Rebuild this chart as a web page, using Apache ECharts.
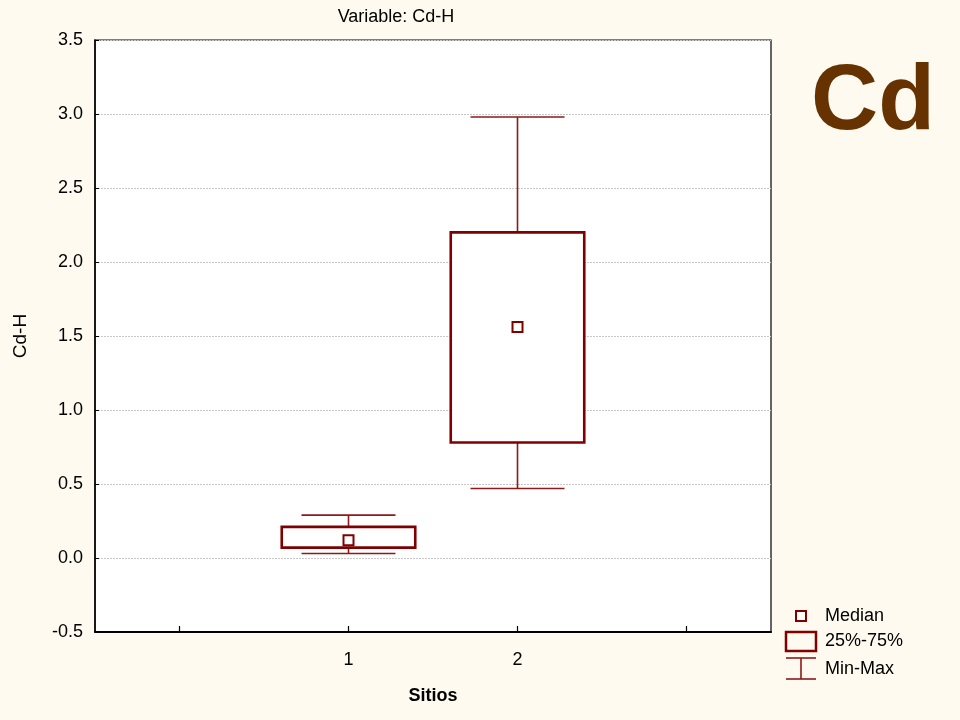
<!DOCTYPE html>
<html>
<head>
<meta charset="utf-8">
<script src="https://cdn.jsdelivr.net/npm/echarts@6/dist/echarts.min.js"></script>
<style>
html,body{margin:0;padding:0;background:#FFFAF0;}
#chart{width:960px;height:720px;}
</style>
</head>
<body>
<div id="chart"></div>
<script>
// ---- data ----
const categories = ['0', '1', '2', '3'];
const siteLabels = ['1', '2'];
const siteIndex = [1, 2];
const minVals = [0.03, 0.47];
const q1Vals = [0.07, 0.78];
const medianVals = [0.12, 1.56];
const q3Vals = [0.21, 2.20];
const maxVals = [0.29, 2.98];
const yTicks = [-0.5, 0.0, 0.5, 1.0, 1.5, 2.0, 2.5, 3.0, 3.5];

const FONT = 'Liberation Sans, Arial, sans-serif';
const boxData = siteIndex.map((x, i) => [x, minVals[i], q1Vals[i], medianVals[i], q3Vals[i], maxVals[i]]);

const chart = echarts.init(document.getElementById('chart'), null, {renderer: 'canvas'});

function renderBox(params, api) {
  const x = api.value(0);
  const pMin = api.coord([x, api.value(1)]);
  const pQ1 = api.coord([x, api.value(2)]);
  const pMed = api.coord([x, api.value(3)]);
  const pQ3 = api.coord([x, api.value(4)]);
  const pMax = api.coord([x, api.value(5)]);
  const band = api.size([1, 0])[0];
  const bw = band * 0.79;
  const cw = band * 0.556;
  const cx = pMed[0];
  const wStyle = {stroke: '#8B1A1A', lineWidth: 1.6};
  return {
    type: 'group',
    children: [
      {type: 'line', shape: {x1: cx, y1: pMin[1], x2: cx, y2: pQ1[1]}, style: wStyle},
      {type: 'line', shape: {x1: cx, y1: pQ3[1], x2: cx, y2: pMax[1]}, style: wStyle},
      {type: 'line', shape: {x1: cx - cw / 2, y1: pMin[1], x2: cx + cw / 2, y2: pMin[1]}, style: wStyle},
      {type: 'line', shape: {x1: cx - cw / 2, y1: pMax[1], x2: cx + cw / 2, y2: pMax[1]}, style: wStyle},
      {type: 'rect', shape: {x: cx - bw / 2, y: pQ3[1], width: bw, height: pQ1[1] - pQ3[1]},
        style: {fill: '#ffffff', stroke: '#800000', lineWidth: 2.6}},
      {type: 'rect', shape: {x: cx - 5, y: pMed[1] - 5, width: 10, height: 10},
        style: {fill: '#ffffff', stroke: '#800000', lineWidth: 2}}
    ]
  };
}

const option = {
  backgroundColor: '#FFFAF0',
  animation: false,
  title: {
    text: 'Variable: Cd-H',
    left: 391,
    textAlign: 'center',
    top: 3,
    textStyle: {fontFamily: FONT, fontSize: 18, fontWeight: 'normal', color: '#000'}
  },
  grid: {
    left: 95, right: 189, top: 40, bottom: 88,
    show: true, backgroundColor: '#ffffff', borderColor: '#000', borderWidth: 1.2
  },
  xAxis: {
    type: 'category',
    data: categories,
    boundaryGap: true,
    name: 'Sitios',
    nameLocation: 'middle',
    nameGap: 55,
    nameTextStyle: {fontFamily: FONT, fontSize: 18, fontWeight: 'bold', color: '#000'},
    axisLine: {onZero: false, lineStyle: {color: '#000', width: 2}},
    axisTick: {show: true, inside: true, length: 6, interval: 0, alignWithLabel: true, lineStyle: {color: '#000', width: 1.2}},
    axisLabel: {
      interval: 0, margin: 19, fontFamily: FONT, fontSize: 18, color: '#000',
      formatter: v => (siteLabels.indexOf(v) >= 0 ? v : '')
    },
    splitLine: {show: false}
  },
  yAxis: {
    type: 'value',
    min: -0.5, max: 3.5, interval: 0.5,
    name: 'Cd-H',
    nameLocation: 'middle',
    nameRotate: 90,
    nameGap: 65,
    nameTextStyle: {fontFamily: FONT, fontSize: 19, color: '#000'},
    axisLine: {show: true, lineStyle: {color: '#000', width: 1.5}},
    axisTick: {show: true, inside: true, length: 4, lineStyle: {color: '#000'}},
    axisLabel: {
      margin: 12, fontFamily: FONT, fontSize: 18, color: '#000',
      formatter: v => yTicks.indexOf(Math.round(v * 10) / 10) >= 0 ? v.toFixed(1) : ''
    },
    splitLine: {show: true, lineStyle: {color: '#c8c8c8', type: [2, 1], width: 1}}
  },
  series: [{
    type: 'custom',
    renderItem: renderBox,
    data: boxData,
    encode: {x: 0, y: [1, 2, 3, 4, 5]},
    clip: false
  }],
  graphic: [
    {type: 'text', left: 811, top: 57,
      style: {text: 'Cd', font: 'bold 93px ' + FONT, fill: '#663300'}},
    {type: 'rect', shape: {x: 796, y: 611, width: 10, height: 10},
      style: {fill: '#fff', stroke: '#800000', lineWidth: 2}},
    {type: 'text', x: 825, y: 616,
      style: {text: 'Median', font: '18px ' + FONT, fill: '#000', verticalAlign: 'middle'}},
    {type: 'rect', shape: {x: 786, y: 632, width: 30, height: 19},
      style: {fill: 'transparent', stroke: '#800000', lineWidth: 2.5}},
    {type: 'text', x: 825, y: 641,
      style: {text: '25%-75%', font: '18px ' + FONT, fill: '#000', verticalAlign: 'middle'}},
    {type: 'line', shape: {x1: 786, y1: 658, x2: 816, y2: 658}, style: {stroke: '#8B1A1A', lineWidth: 1.6}},
    {type: 'line', shape: {x1: 801, y1: 658, x2: 801, y2: 679}, style: {stroke: '#8B1A1A', lineWidth: 1.6}},
    {type: 'line', shape: {x1: 786, y1: 679, x2: 816, y2: 679}, style: {stroke: '#8B1A1A', lineWidth: 1.6}},
    {type: 'text', x: 825, y: 669,
      style: {text: 'Min-Max', font: '18px ' + FONT, fill: '#000', verticalAlign: 'middle'}}
  ]
};
chart.setOption(option);
</script>
</body>
</html>
